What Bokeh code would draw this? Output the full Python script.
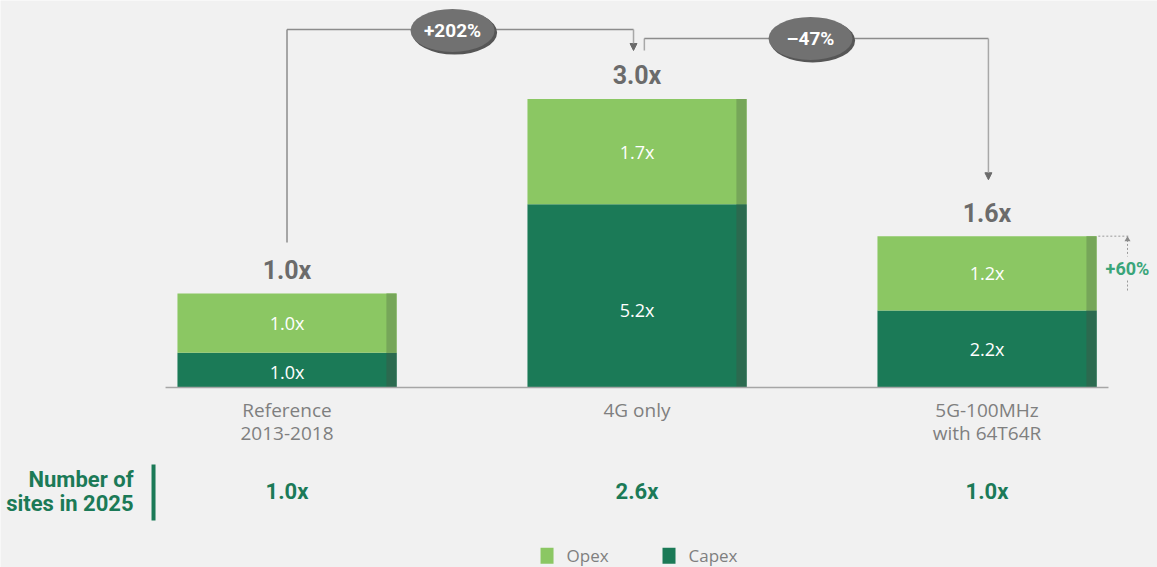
from bokeh.plotting import figure
from bokeh.models import Range1d, ColumnDataSource, Arrow, NormalHead
from bokeh.embed import file_html
from bokeh.resources import INLINE
from bokeh.core.properties import value

# ---------------- data ----------------
categories = ["Reference\n2013-2018", "4G only", "5G-100MHz\nwith 64T64R"]
capex = [0.37, 1.95, 0.82]          # bar heights (reference total = 1.0)
opex = [0.63, 1.12, 0.79]
capex_labels = ["1.0x", "5.2x", "2.2x"]
opex_labels = ["1.0x", "1.7x", "1.2x"]
total_labels = ["1.0x", "3.0x", "1.6x"]
sites_title = ["Number of", "sites in 2025"]
sites_labels = ["1.0x", "2.6x", "1.0x"]
change_labels = ["+202%", "\u201347%"]
gap_label = "+60%"
legend_labels = ["Opex", "Capex"]

# ---------------- styles ----------------
BG = "#f1f1f1"
CAPEX = "#1b7a57"
CAPEX_D = "#2b6a4f"
OPEX = "#8bc763"
OPEX_D = "#76a659"
GRAY_T = "#6b6b6b"
GRAY_L = "#7f7f7f"
GREEN_T = "#1b7a57"
TEAL = "#3aa57a"
FONT = value("Open Sans")
BOLD = value("Roboto")

W, H = 1157, 567
xs = list(range(len(categories)))
totals = [c + o for c, o in zip(capex, opex)]
BW = 0.626
STRIP = 0.029

p = figure(width=W, height=H, x_range=Range1d(-0.8186, 2.4871),
           y_range=Range1d(-1.9149, 4.1170), output_backend="svg",
           toolbar_location=None, x_axis_location=None, y_axis_location=None,
           min_border=0)
p.grid.visible = False
p.outline_line_color = None
p.background_fill_color = BG
p.border_fill_color = BG

# bars
p.vbar(x=xs, width=BW, bottom=0, top=capex, fill_color=CAPEX, line_color=None)
p.vbar(x=xs, width=BW, bottom=capex, top=totals, fill_color=OPEX, line_color=None)
sx = [x + BW / 2 - STRIP / 2 for x in xs]
p.vbar(x=sx, width=STRIP, bottom=0, top=capex, fill_color=CAPEX_D, line_color=None)
p.vbar(x=sx, width=STRIP, bottom=capex, top=totals, fill_color=OPEX_D, line_color=None)

# baseline
p.line([xs[0] - 0.347, xs[-1] + 0.347], [0, 0], line_color="#a6a6a6", line_width=1.5)

# labels inside bars
cap_src = ColumnDataSource(dict(x=xs, y=[c / 2 for c in capex], t=capex_labels, dy=[2, 14, 0]))
p.text(x="x", y="y", text="t", y_offset="dy", source=cap_src, text_color="white",
       text_align="center", text_baseline="middle", text_font_size="18px", text_font=FONT)
p.text(x=xs, y=[c + o / 2 for c, o in zip(capex, opex)], text=opex_labels, text_color="white",
       text_align="center", text_baseline="middle", text_font_size="18px", text_font=FONT)

# totals
p.text(x=xs, y=totals, text=total_labels, y_offset=-23, text_color=GRAY_T,
       text_align="center", text_baseline="middle", text_font_size="25px",
       text_font=BOLD, text_font_style="bold")

# category labels
for x, cat in zip(xs, categories):
    for j, line in enumerate(cat.split("\n")):
        p.text(x=[x], y=[0], text=[line], y_offset=23 + 23 * j, text_color=GRAY_L,
               text_align="center", text_baseline="middle", text_font_size="19px",
               text_font=FONT)

# sites row
p.text(x=xs, y=[0] * 3, text=sites_labels, y_offset=104, text_color=GREEN_T,
       text_align="center", text_baseline="middle", text_font_size="22px",
       text_font=BOLD, text_font_style="bold")
for j, line in enumerate(sites_title):
    p.text(x=[-0.4386], y=[0], text=[line], y_offset=92 + 24 * j, text_color=GREEN_T,
           text_align="right", text_baseline="middle", text_font_size="22px",
           text_font=BOLD, text_font_style="bold")
p.segment(x0=[-0.3814], y0=[-0.819], x1=[-0.3814], y1=[-1.415], line_color=GREEN_T, line_width=4)

# brackets
HL = "#8c8c8c"
VL = "#a8a8a8"
# first: ref -> 4G
p.segment(x0=[0], y0=[1.543], x1=[0], y1=[3.809], line_color=HL, line_width=1.5)
p.segment(x0=[0], y0=[3.809], x1=[0.99], y1=[3.809], line_color=HL, line_width=1.5)
p.add_layout(Arrow(end=NormalHead(size=7, fill_color=GRAY_T, line_color=GRAY_T),
                   x_start=0.99, y_start=3.809, x_end=0.99, y_end=3.585,
                   line_color=VL, line_width=1.5))
# second: 4G -> 5G
p.segment(x0=[1.021], y0=[3.585], x1=[1.021], y1=[3.713], line_color=VL, line_width=1.5)
p.segment(x0=[1.021], y0=[3.713], x1=[2.004], y1=[3.713], line_color=HL, line_width=1.5)
p.add_layout(Arrow(end=NormalHead(size=7, fill_color=GRAY_T, line_color=GRAY_T),
                   x_start=2.004, y_start=3.713, x_end=2.004, y_end=totals[2] + 0.6,
                   line_color=VL, line_width=1.5))

# ellipses with change labels
ex = [0.4729, 1.4957]
ey = [3.798, 3.713]
p.ellipse(x=[v + 0.006 for v in ex], y=[v - 0.022 for v in ey], width=85, height=44,
          width_units="screen", height_units="screen", fill_color="#565656", line_color=None)
p.ellipse(x=ex, y=ey, width=84, height=43, width_units="screen", height_units="screen",
          fill_color="#717171", line_color=None)
p.text(x=ex, y=ey, text=change_labels, text_color="white", text_align="center",
       text_baseline="middle", text_font_size="19px", text_font=BOLD, text_font_style="bold")

# +60% annotation
p.segment(x0=[2 + BW / 2 + 0.005], y0=[totals[2]], x1=[2.404], y1=[totals[2]],
          line_color="#9a9a9a", line_width=1, line_dash="2 2")
p.segment(x0=[2.4014], y0=[totals[2] - 0.04], x1=[2.4014], y1=[1.394],
          line_color="#9a9a9a", line_width=1, line_dash="2 2")
p.segment(x0=[2.4014], y0=[1.138], x1=[2.4014], y1=[totals[0] + 0.02],
          line_color="#9a9a9a", line_width=1, line_dash="2 2")
p.scatter(x=[2.4014], y=[totals[2] - 0.035], marker="triangle", size=6,
          fill_color="#8a8a8a", line_color=None)
p.text(x=[2.4014], y=[1.266], text=[gap_label], text_color=TEAL, text_align="center",
       text_baseline="middle", text_font_size="18px", text_font=BOLD, text_font_style="bold")

# legend
lx = [0.7429, 1.0914]
ly = [-1.79, -1.79]
p.rect(x=lx, y=ly, width=13, height=16, width_units="screen", height_units="screen",
       fill_color=[OPEX, CAPEX], line_color=None)
p.text(x=[v + 0.0557 for v in lx], y=ly, text=legend_labels, text_color=GRAY_L,
       text_align="left", text_baseline="middle", text_font_size="17px", text_font=FONT)

open("out.html", "w").write(file_html(p, INLINE))
